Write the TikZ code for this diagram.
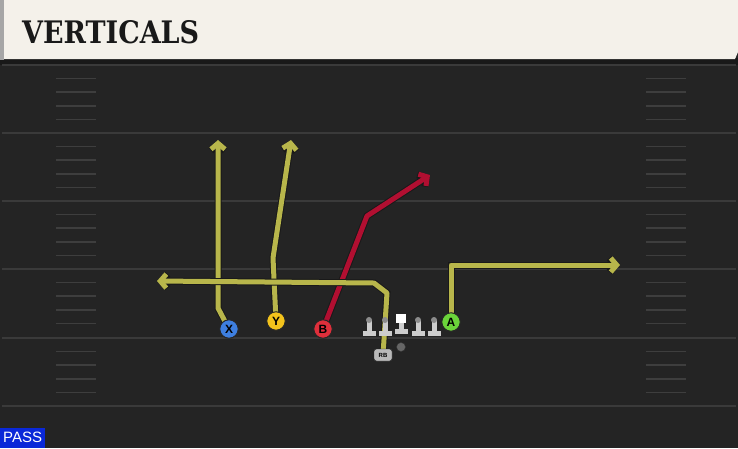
\documentclass[tikz,border=0pt]{standalone}
\usepackage{fontspec}
\setmainfont{Liberation Sans}
\newfontfamily\slabfont{DejaVu Serif}
\usetikzlibrary{arrows.meta}

\definecolor{field}{HTML}{242424}
\definecolor{yardgray}{HTML}{3A3A3A}
\definecolor{hashgray}{HTML}{3E3E3E}
\definecolor{paper}{HTML}{F4F1EA}
\definecolor{routeyellow}{HTML}{B8B64B}
\definecolor{routered}{HTML}{B10F31}
\definecolor{xblue}{HTML}{3E7FE0}
\definecolor{yyellow}{HTML}{F3C31C}
\definecolor{bred}{HTML}{DF2F3B}
\definecolor{agreen}{HTML}{6BD43A}
\definecolor{linegray}{HTML}{CDCDCD}
\definecolor{passblue}{HTML}{0A28D8}

\tikzset{
  yardline/.style={draw=yardgray, line width=2pt},
  hashline/.style={draw=hashgray, line width=1.5pt},
  route/.style={draw=routeyellow, line width=5pt, line join=round,
    -{Straight Barb[length=6pt,width=14pt]},
    preaction={draw=black!90, line width=7pt}},
  hotroute/.style={route, draw=routered},
  player/.style={circle, draw=black!85, line width=1pt, minimum size=18.5pt,
    inner sep=0pt, font=\bfseries\fontsize{12}{12}\selectfont},
  lineman/.style={fill=linegray},
}

\begin{document}
\begin{tikzpicture}[x=1pt,y=-1pt]
\useasboundingbox (0,0) rectangle (738,448);
\fill[field] (0,0) rectangle (738,448);

% header
\fill[black!90] (0,58) rectangle (738,65);
\fill[gray!70] (0,0) rectangle (4,60);
\fill[paper] (4,0) -- (738,0) -- (738,52) -- (735,59) -- (4,59) -- cycle;
\node[anchor=base west, inner sep=0pt, text=black!90,
  font=\slabfont\bfseries\fontsize{31}{31}\selectfont] (title) at (22,43)
  {\scalebox{0.87}[1]{VERTICALS}};

% yard lines and hashes
\foreach \y in {65,133,201,269,338,406}
  \draw[yardline] (2,\y) -- (736,\y);
\foreach \y in {65,133,201,269,338}
  \foreach \k in {1,...,4} {
    \draw[hashline] (56,{\y+13.6*\k}) -- (96,{\y+13.6*\k});
    \draw[hashline] (646,{\y+13.6*\k}) -- (686,{\y+13.6*\k});
  }

% players
\coordinate (X) at (229,329);
\coordinate (Y) at (276,321);
\coordinate (B) at (323,329);
\coordinate (A) at (451,322);
\coordinate (RB) at (383,355);

% routes
\draw[route] (X) -- (218,308) -- (218,140);
\draw[route] (Y) -- (273,258) -- (291,140);
\draw[hotroute] (B) -- (367,216) -- (430,175);
\draw[route] (RB) -- (387,293) -- (374,283) -- (157,281);
\draw[route] (A) -- (451,265) -- (620,265);

% line
\foreach \x in {369,385,418,434} {
  \fill[lineman] (\x-2.5,320) rectangle (\x+2.5,331);
  \fill[lineman] (\x-6.5,331) rectangle (\x+6.5,336);
  \fill[gray!90] (\x,320) circle (3);
}
\fill[lineman] (398.5,320) rectangle (403.5,330);
\fill[lineman] (394.5,329) rectangle (407.5,334);
\fill[white] (396,314) rectangle (406,323);
\fill[gray!80!black, draw=black!80] (401,347) circle (4.5);

\node[player, fill=xblue] (xnode) at (X) {X};
\node[player, fill=yyellow] (ynode) at (Y) {Y};
\node[player, fill=bred] (bnode) at (B) {B};
\node[player, fill=agreen] (anode) at (A) {A};
\node[draw=black!85, fill=gray!55, rounded corners=2.5pt, minimum width=18pt,
  minimum height=12pt, inner sep=0pt, font=\bfseries\fontsize{6}{6}\selectfont] (rbnode) at (RB) {RB};

% play type
\node[anchor=south west, fill=passblue, text=white, minimum width=45pt,
  minimum height=20pt, inner sep=0pt, font=\fontsize{15}{15}\selectfont] (pass) at (0,448) {PASS};
\end{tikzpicture}
\end{document}
